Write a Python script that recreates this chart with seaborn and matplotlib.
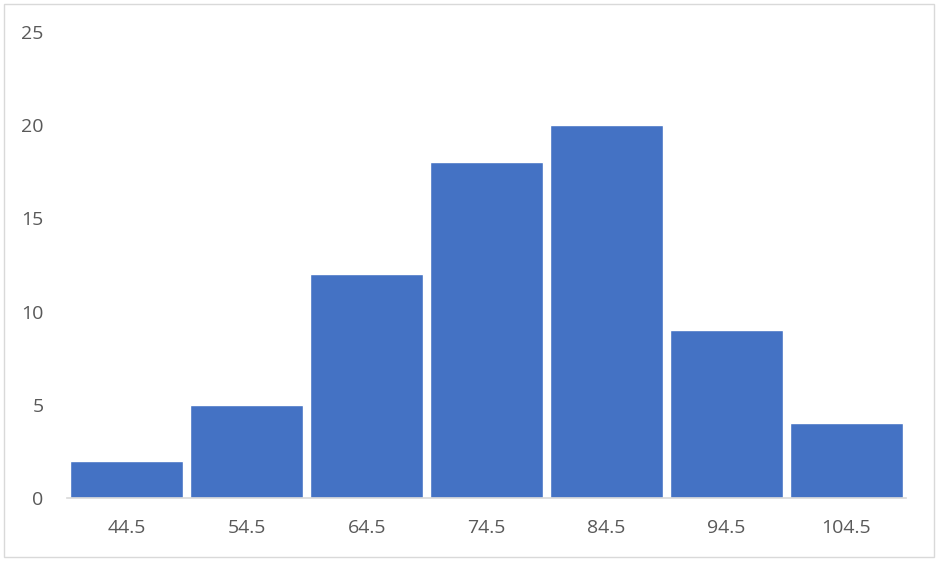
import matplotlib
matplotlib.use("Agg")
import matplotlib.pyplot as plt
import seaborn as sns
import pandas as pd
from matplotlib.patches import Rectangle

# histogram bin midpoints and counts
bins = ["44.5", "54.5", "64.5", "74.5", "84.5", "94.5", "104.5"]
counts = [2, 5, 12, 18, 20, 9, 4]
y_ticks = [0, 5, 10, 15, 20, 25]

df = pd.DataFrame({"bin": bins, "count": counts})

sns.set_theme(style="white")
plt.rcParams['font.family'] = ['Open Sans', 'DejaVu Sans']

fig = plt.figure(figsize=(9.37, 5.61), dpi=100)
ax = fig.add_axes([0.0715, 0.1123, 0.8954, 0.8307])

sns.barplot(data=df, x="bin", y="count", color="#4472C4", saturation=1,
            width=0.943, ax=ax)

ax.set_ylim(0, 25)
ax.set_yticks(y_ticks)
ax.set_xlim(-0.5, len(bins) - 0.5)
ax.set_xlabel("")
ax.set_ylabel("")
for s in ["top", "right", "left"]:
    ax.spines[s].set_visible(False)
ax.spines["bottom"].set_color("#D9D9D9")
ax.spines["bottom"].set_linewidth(1.2)
ax.tick_params(axis="both", length=0, labelsize=14, colors="#595959")
ax.tick_params(axis="y", pad=17)
ax.tick_params(axis="x", pad=15)

# outer chart border
fig.patches.append(Rectangle((0.0043, 0.0071), 0.9925, 0.9857, transform=fig.transFigure,
                             fill=False, edgecolor="#D9D9D9", linewidth=1))

fig.savefig("out.png", dpi=100)
